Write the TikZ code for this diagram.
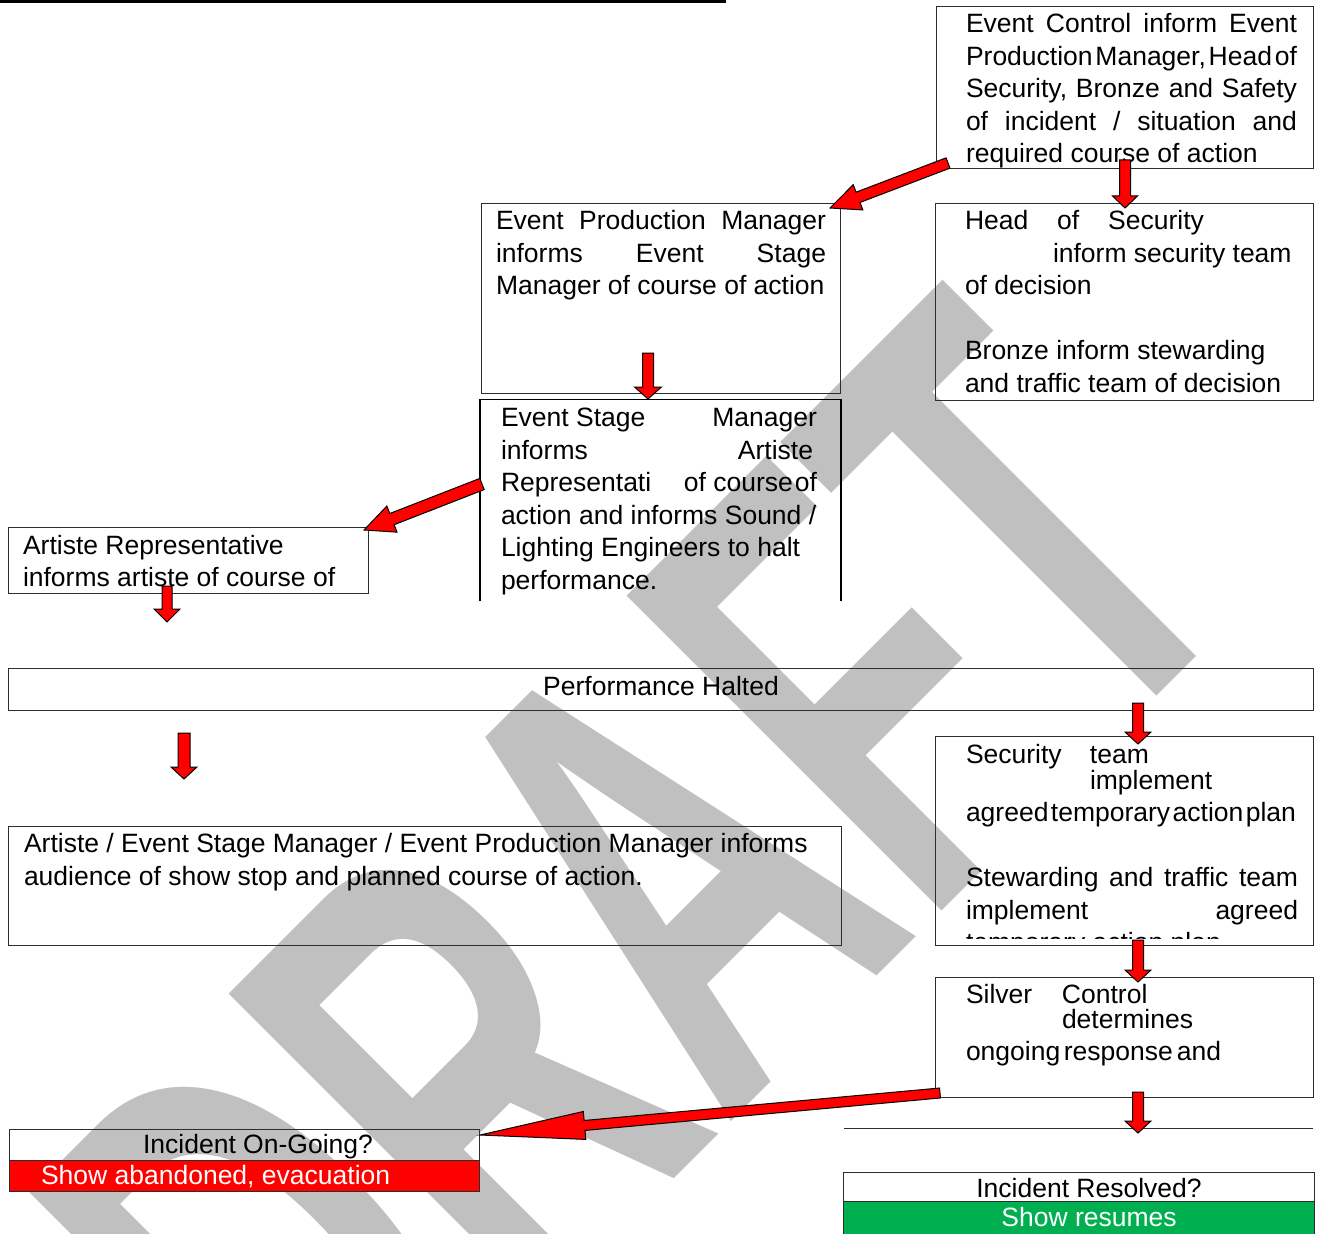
\documentclass[tikz,border=0pt]{standalone}
\usepackage{fontspec}
\setmainfont{Liberation Sans}
\usetikzlibrary{calc}
\definecolor{wmgray}{RGB}{192,192,192}
\definecolor{boxline}{RGB}{45,45,45}
\definecolor{okgreen}{RGB}{0,176,80}
\newcommand\fs{\fontsize{26.5}{32.5}\selectfont}
\newcommand\firstl{\rule{0pt}{20pt}}
\newcommand\jline[2]{\makebox[#1pt][l]{#2}}
% block arrow: tail, tip, shaft half width, head half width, head length
\newcommand\blockarrow[5]{%
  \coordinate (hb) at ($(#2)!#5pt!(#1)$);
  \filldraw[barrow] ($(#1)!#3pt!90:(#2)$) -- ($(hb)!#3pt!90:(#2)$) -- ($(hb)!#4pt!90:(#2)$) -- (#2)
     -- ($(hb)!#4pt!-90:(#2)$) -- ($(hb)!#3pt!-90:(#2)$) -- ($(#1)!#3pt!-90:(#2)$) -- cycle;}
\tikzset{
  box/.style={draw=boxline, line width=1pt, inner sep=0pt, outer sep=0pt, anchor=north west},
  txt/.style={inner sep=0pt, outer sep=0pt, anchor=north west, align=left, font=\fs},
  ctxt/.style={inner sep=0pt, outer sep=0pt, anchor=base, font=\fs},
  barrow/.style={fill=red, draw=black, line width=1pt, line join=miter},
  wmtext/.style={text=wmgray, font=\fontsize{390}{390}\selectfont\bfseries, inner sep=0pt, outer sep=0pt,
     anchor=north east, rotate=45, yscale=1.66},
}
\begin{document}
\begin{tikzpicture}[x=1pt,y=-1pt]
\useasboundingbox (0,0) rectangle (1321,1233);
% watermark
\node[wmtext] (wm) at (946,277) {DRAFT};
% heading rule
\draw[line width=2.7pt] (0,1.35) -- (726,1.35);

% boxes
\node[box, minimum width=377pt, minimum height=162pt] (A) at (936,7) {};
\node[box, minimum width=359pt, minimum height=189pt] (B) at (481,204) {};
\node[box, minimum width=378pt, minimum height=196pt] (C) at (935,204) {};
\node[inner sep=0pt, outer sep=0pt, anchor=north west, minimum width=361pt, minimum height=202pt] (D) at (480,399) {};
\draw[black, line width=2.6pt] (D.south west) -- (D.north west);
\draw[black, line width=2pt] (D.north east) -- (D.south east);
\draw[black, line width=1pt] (D.north west) -- (D.north east);
\node[box, minimum width=360pt, minimum height=66pt] (E) at (8,527) {};
\node[box, minimum width=1305pt, minimum height=42pt] (F) at (8,668) {};
\node[box, minimum width=833pt, minimum height=119pt] (G) at (8,826) {};
\node[box, minimum width=378pt, minimum height=209pt] (H) at (935,736) {};
\node[box, minimum width=378pt, minimum height=120pt] (I) at (935,977) {};
\node[box, minimum width=470pt, minimum height=31pt] (J) at (9,1129) {};
\node[box, fill=red, minimum width=470pt, minimum height=31pt] (Jr) at (9,1160) {};
\node[box, minimum width=471pt, minimum height=29pt] (K) at (843,1172) {};
\node[box, fill=okgreen, minimum width=471pt, minimum height=40pt] (Kg) at (843,1201) {};
\draw[draw=boxline, line width=1pt] (844,1128) -- (1313,1128);

% texts
\node[txt] (At) at (966,13) {\firstl\jline{331}{Event\hfill Control\hfill inform\hfill Event}\\
  \jline{331}{Production\hfill Manager,\hfill Head\hfill of}\\
  \jline{331}{Security,\hfill Bronze\hfill and\hfill Safety}\\
  \jline{331}{of\hfill incident\hfill /\hfill situation\hfill and}\\
  required course of action};
\node[txt] (Bt) at (496,209.5) {\firstl\jline{330}{Event\hfill Production\hfill Manager}\\
  \jline{330}{informs\hfill Event\hfill Stage}\\
  Manager of course of action};
\node[txt] (Ct) at (965,209.5) {\firstl\jline{239}{Head\hfill of\hfill Security}\\
  \hspace*{88pt}inform security team\\
  of decision\\[32.5pt]
  Bronze inform stewarding\\
  and traffic team of decision};
\node[txt] (Dt) at (501,406.5) {\firstl\jline{316}{Event Stage\hfill Manager}\\
  \jline{312}{informs\hfill Artiste}\\
  \jline{316}{Representati\hfill of course\hspace{2pt}of}\\
  action and informs Sound /\\
  Lighting Engineers to halt\\
  performance.};
\node[txt] (Et) at (23,534) {\firstl Artiste Representative\\ informs artiste of course of};
\node[ctxt] (Ft) at (661,695) {Performance Halted};
\node[txt] (Gt) at (24,832.5) {\firstl Artiste / Event Stage Manager / Event Production Manager informs\\
  audience of show stop and planned course of action.};
\begin{scope}
\clip (H.north west) rectangle ($(H.south east)+(0,-7)$);
\node[txt] (Ht) at (966,743) {\firstl\makebox[124pt][l]{Security}team\\[-6.5pt]
  \hspace*{124pt}implement\\
  \jline{330}{agreed\hfill temporary\hfill action\hfill plan}\\[32.5pt]
  \jline{332}{Stewarding\hfill and\hfill traffic\hfill team}\\
  \jline{332}{implement\hfill agreed}\\
  temporary action plan};
\end{scope}
\node[txt] (It) at (966,983) {\firstl\makebox[96pt][l]{Silver}Control\\[-7.5pt]
  \hspace*{96pt}determines\\[-0.5pt]
  ongoing\hspace{3.5pt}response\hspace{4pt}and};
\node[ctxt] (Jt) at (258,1153) {Incident On-Going?};
\node[txt, anchor=base west, text=white] (Jrt) at (41,1184) {Show abandoned, evacuation};
\node[ctxt] (Kt) at (1089,1197) {Incident Resolved?};
\node[ctxt, text=white] (Kgt) at (1089,1226) {Show resumes};

% connector end points
\coordinate (a1s) at ($(A.south west)+(12,-6)$);
\coordinate (a1e) at ($(B.north east)+(-10,4)$);
\coordinate (a2s) at ($(A.south west)+(189,-9)$);
\coordinate (a2e) at ($(C.north west)+(190,4)$);
\coordinate (a3s) at ($(B.north west)+(167,149)$);
\coordinate (a3e) at ($(D.north west)+(168,0)$);
\coordinate (a4s) at ($(D.north west)+(2,85)$);
\coordinate (a4e) at ($(E.north east)+(-4,3)$);
\coordinate (a5s) at ($(E.south west)+(159,-7)$);
\coordinate (a5e) at ($(E.south west)+(159,29)$);
\coordinate (a6s) at ($(F.south west)+(176,23)$);
\coordinate (a6e) at ($(G.north west)+(176,-47)$);
\coordinate (a7s) at ($(F.north west)+(1130,35)$);
\coordinate (a7e) at ($(H.north west)+(203,8)$);
\coordinate (a8s) at ($(H.south west)+(203,-5)$);
\coordinate (a8e) at ($(I.north west)+(203,5)$);
\coordinate (a9s) at ($(I.south west)+(203,-5)$);
\coordinate (a9e) at ($(I.south west)+(203,36)$);
\coordinate (a10s) at ($(I.south west)+(5,-4)$);
\coordinate (a10e) at ($(J.north east)+(1,6)$);

% arrows
\blockarrow{a1s}{a1e}{5.5}{13.5}{30}
\blockarrow{a2s}{a2e}{5.5}{12.5}{12}
\blockarrow{a3s}{a3e}{5.5}{13.5}{12}
\blockarrow{a4s}{a4e}{6}{14}{30}
\blockarrow{a5s}{a5e}{5}{13}{13}
\blockarrow{a6s}{a6e}{6}{13}{12}
\blockarrow{a7s}{a7e}{5.5}{13}{12}
\blockarrow{a8s}{a8e}{5.5}{13}{12}
\blockarrow{a9s}{a9e}{5.5}{13}{12}
\blockarrow{a10s}{a10e}{5}{14}{105}
\end{tikzpicture}
\end{document}
